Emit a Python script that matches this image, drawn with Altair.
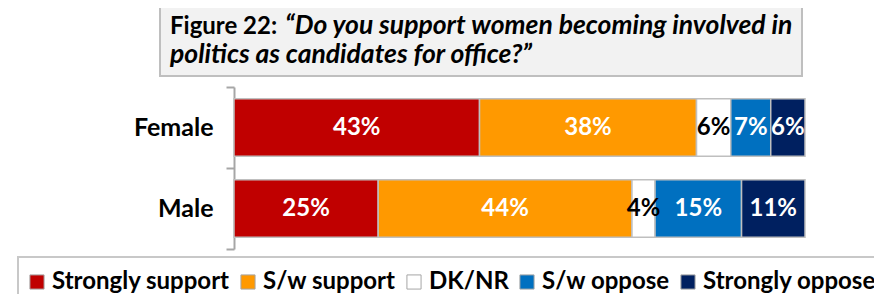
import altair as alt
import pandas as pd

groups = ["Female", "Male"]
categories = ["Strongly support", "S/w support", "DK/NR", "S/w oppose", "Strongly oppose"]
female = [43, 38, 6, 7, 6]
male = [25, 44, 4, 15, 11]
colors = ["#C00000", "#FF9900", "#FFFFFF", "#0070C0", "#002060"]
title_lead = "Figure 22:"
title_line1 = "\u201cDo you support women becoming involved in"
title_line2 = "politics as candidates for office?\u201d"

FONT = "Lato"
GRAY = "#a6a6a6"

rows = []
for g, vals in zip(groups, [female, male]):
    total = sum(vals)
    cum = 0
    for i, (c, v) in enumerate(zip(categories, vals)):
        rows.append(dict(group=g, cat=c, order=i, value=v,
                         start=cum / total, end=(cum + v) / total,
                         mid=(cum + v / 2) / total, label=f"{v}%"))
        cum += v
df = pd.DataFrame(rows)

y_enc = alt.Y(
    "group:N", sort=groups, title=None,
    scale=alt.Scale(paddingInner=0, paddingOuter=0),
    axis=alt.Axis(tickBand="extent", domainColor=GRAY, domainWidth=2,
                  tickColor=GRAY, tickWidth=2, tickSize=8, ticks=True,
                  labelFont=FONT, labelFontWeight="bold", labelFontSize=25,
                  labelColor="black", labelPadding=13),
)

bars = alt.Chart(df).mark_bar(stroke="#bfbfbf", strokeWidth=1.5,
                              height=alt.RelativeBandSize(0.71)).encode(
    x=alt.X("start:Q", scale=alt.Scale(domain=[0, 1]), axis=None),
    x2="end:Q",
    y=y_enc,
    color=alt.Color(
        "cat:N", sort=categories,
        scale=alt.Scale(domain=categories, range=colors),
        legend=alt.Legend(
            title=None, orient="none", direction="horizontal", columns=5,
            legendX=-209, legendY=183, symbolType="square", symbolSize=200,
            symbolStrokeColor="#a6a6a6", symbolStrokeWidth=1,
            labelFont=FONT, labelFontWeight="bold", labelFontSize=24,
            labelColor="black", labelOffset=3, columnPadding=6, padding=0,
            labelLimit=400,
        ),
    ),
)

texts = alt.Chart(df).mark_text(font=FONT, fontWeight="bold", fontSize=24).encode(
    x=alt.X("mid:Q"),
    y=alt.Y("group:N", sort=groups),
    text="label:N",
    color=alt.condition(alt.datum.cat == "DK/NR", alt.value("black"), alt.value("white")),
)

one = alt.Data(values=[{"a": 1}])

title_box = alt.Chart(one).mark_rect(fill="#f2f2f2", stroke="#bfbfbf", strokeWidth=2).encode(
    x=alt.value(-74), x2=alt.value(568), y=alt.value(-95), y2=alt.value(-11)
)
legend_box = alt.Chart(one).mark_rect(fill="white", stroke="#c8c8c8", strokeWidth=2).encode(
    x=alt.value(-216), x2=alt.value(700), y=alt.value(170), y2=alt.value(260)
)

t_lead = alt.Chart(one).mark_text(font=FONT, fontWeight="bold", fontSize=24,
                                  align="left", baseline="alphabetic", color="black").encode(
    x=alt.value(-64), y=alt.value(-53), text=alt.value(title_lead)
)
t_l1 = alt.Chart(one).mark_text(font=FONT, fontWeight="bold", fontStyle="italic", fontSize=26.5,
                                align="left", baseline="alphabetic", color="black").encode(
    x=alt.value(51), y=alt.value(-53), text=alt.value(title_line1)
)
t_l2 = alt.Chart(one).mark_text(font=FONT, fontWeight="bold", fontStyle="italic", fontSize=26.5,
                                align="left", baseline="alphabetic", color="black").encode(
    x=alt.value(-64), y=alt.value(-24), text=alt.value(title_line2)
)

chart = alt.layer(title_box, legend_box, bars, texts, t_lead, t_l1, t_l2).properties(
    width=571, height=162,
    autosize=alt.AutoSizeParams(type="none"),
    padding={"left": 226, "top": 79, "right": 69, "bottom": 45},
).configure_view(stroke=None)

chart.save("out.html", embed_options={"renderer": "svg", "actions": False})
